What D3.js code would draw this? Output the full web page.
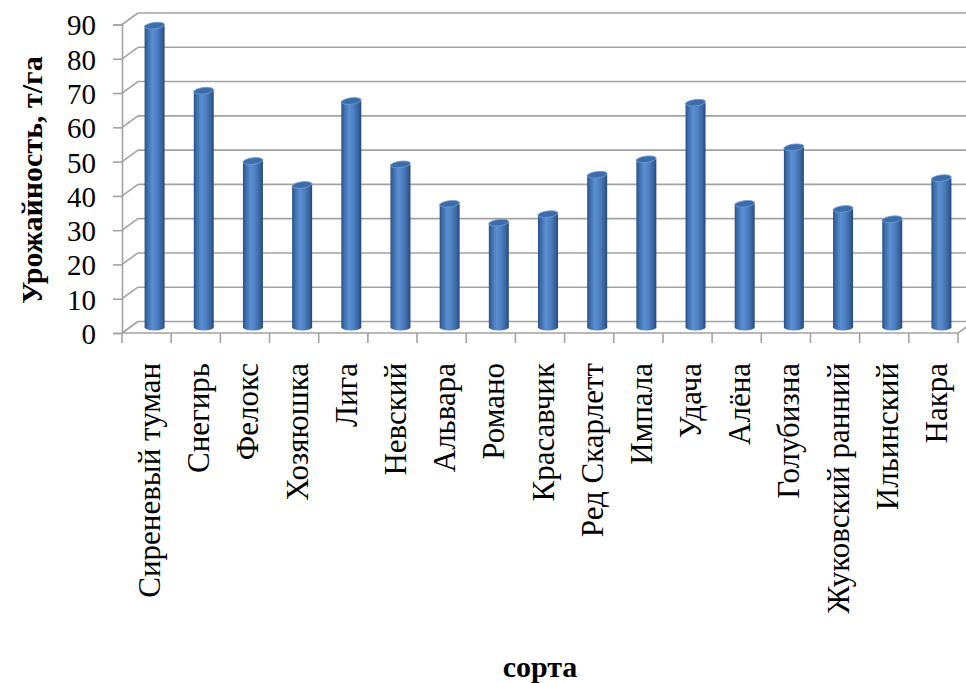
<!DOCTYPE html>
<html>
<head>
<meta charset="utf-8">
<script src="https://cdn.jsdelivr.net/npm/d3@7"></script>
<style>
  body { margin: 0; background: #fff; }
</style>
</head>
<body>
<div id="chart"></div>
<script>
const categories = [
  "Сиреневый туман", "Снегирь", "Фелокс", "Хозяюшка", "Лига", "Невский",
  "Альвара", "Романо", "Красавчик", "Ред Скарлетт", "Импала", "Удача",
  "Алёна", "Голубизна", "Жуковский ранний", "Ильинский", "Накра"
];
const yields = [88, 69, 48.5, 41.5, 66, 47.5, 36, 30.5, 33, 44.5, 49, 65.5, 36, 52.5, 34.5, 31.5, 43.5];
const yTicks = [0, 10, 20, 30, 40, 50, 60, 70, 80, 90];
const yTitle = "Урожайность, т/га";
const xTitle = "сорта";

const width = 966, height = 683;
const font = "Liberation Serif";
const depth = { dx: 16, dy: -11.5 }; // offset from front plane to back wall
const gridColor = "#a2a2a2";

const svg = d3.select("#chart").append("svg")
  .attr("width", width)
  .attr("height", height);

const x = d3.scaleBand().domain(categories).range([122, 958]).paddingInner(0).paddingOuter(0);
const y = d3.scaleLinear().domain([0, 90]).range([333, 24.5]);
const [x0, x1] = x.range();

// gradient for the cylinders
const defs = svg.append("defs");
const grad = defs.append("linearGradient").attr("id", "cyl").attr("x1", "0").attr("x2", "1");
[
  ["0%", "#2b5083"], ["12%", "#3a69a6"], ["38%", "#5a8fd2"],
  ["60%", "#4f82c4"], ["85%", "#3964a0"], ["100%", "#28497a"]
].forEach(([o, c]) => grad.append("stop").attr("offset", o).attr("stop-color", c));

const walls = svg.append("g")
  .attr("stroke", gridColor)
  .attr("stroke-width", 1.6)
  .attr("fill", "none");

// side wall diagonals
walls.selectAll(".side")
  .data(yTicks)
  .join("line")
  .attr("x1", x0).attr("y1", (d) => y(d))
  .attr("x2", x0 + depth.dx).attr("y2", (d) => y(d) + depth.dy);

// back wall gridlines
walls.selectAll(".grid")
  .data(yTicks)
  .join("line")
  .attr("x1", x0 + depth.dx).attr("y1", (d) => y(d) + depth.dy)
  .attr("x2", x1 + depth.dx).attr("y2", (d) => y(d) + depth.dy);

// floor: right edge + front axis line
walls.append("line")
  .attr("x1", x1).attr("y1", y(0))
  .attr("x2", x1 + depth.dx).attr("y2", y(0) + depth.dy);
walls.append("line")
  .attr("x1", x0).attr("y1", y(0))
  .attr("x2", x1).attr("y2", y(0));

// category tick marks at band edges
walls.selectAll(".xtick")
  .data(d3.range(categories.length + 1))
  .join("line")
  .attr("x1", (i) => x0 + i * x.step()).attr("x2", (i) => x0 + i * x.step())
  .attr("y1", y(0)).attr("y2", y(0) + 10);

// y axis
const yAxis = svg.append("g")
  .attr("transform", `translate(${x0},0)`)
  .call(d3.axisLeft(y).tickValues(yTicks).tickSize(9).tickPadding(17))
  .attr("font-family", font);
yAxis.select(".domain").attr("stroke", gridColor).attr("stroke-width", 1.6);
yAxis.selectAll(".tick line").attr("stroke", gridColor).attr("stroke-width", 1.6);
yAxis.selectAll(".tick text")
  .attr("font-family", font)
  .attr("font-size", 29)
  .attr("fill", "#000")
  .attr("dy", "0.36em");

// cylinders
const r = 10, ry = 3.2;
const bars = svg.append("g")
  .selectAll("g")
  .data(categories.map((c, i) => ({ name: c, value: yields[i] })))
  .join("g")
  .attr("transform", (d) =>
    `translate(${x(d.name) + x.bandwidth() / 2 + depth.dx / 2},${depth.dy / 2})`);

bars.append("path")
  .attr("fill", "url(#cyl)")
  .attr("d", (d) => {
    const top = y(d.value), base = y(0);
    return `M${-r},${top} L${-r},${base} A${r},${ry} 0 0 0 ${r},${base} L${r},${top} Z`;
  });

bars.append("ellipse")
  .attr("cx", 0)
  .attr("cy", (d) => y(d.value))
  .attr("rx", r)
  .attr("ry", ry)
  .attr("transform", (d) => `rotate(-7,0,${y(d.value)})`)
  .attr("fill", "#3d6cab")
  .attr("stroke", "#6f9dd8")
  .attr("stroke-width", 0.8);

// category labels
svg.append("g")
  .selectAll("text")
  .data(categories)
  .join("text")
  .attr("transform", (d) => `translate(${x(d) + x.bandwidth() / 2 + 13.5},363) rotate(-90)`)
  .attr("text-anchor", "end")
  .attr("font-family", font)
  .attr("font-size", 31)
  .text((d) => d);

// axis titles
svg.append("text")
  .attr("transform", "translate(42,180) rotate(-90)")
  .attr("text-anchor", "middle")
  .attr("font-family", font)
  .attr("font-size", 30)
  .attr("font-weight", "bold")
  .text(yTitle);

svg.append("text")
  .attr("x", 540)
  .attr("y", 677)
  .attr("text-anchor", "middle")
  .attr("font-family", font)
  .attr("font-size", 30)
  .attr("font-weight", "bold")
  .text(xTitle);
</script>
</body>
</html>
